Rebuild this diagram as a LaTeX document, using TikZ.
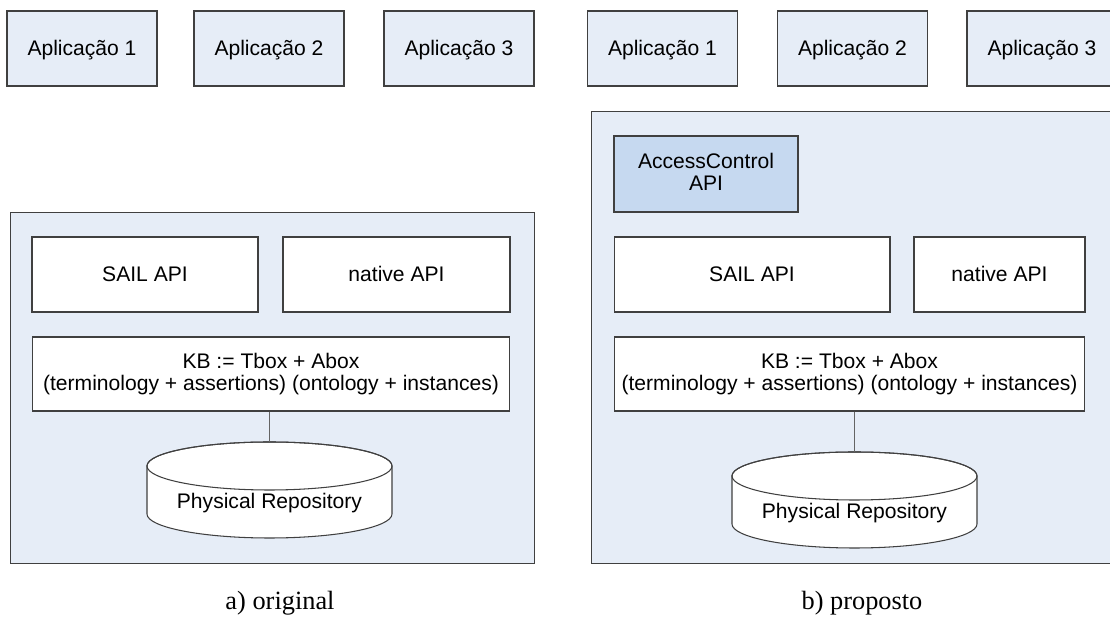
\documentclass[tikz,border=0pt]{standalone}
\usepackage{fontspec}
\setmainfont{Liberation Serif}
\setsansfont{Liberation Sans}
\definecolor{panelfill}{RGB}{230,237,247}
\definecolor{accfill}{RGB}{198,217,240}
\definecolor{edge}{RGB}{64,64,64}
\definecolor{linkgray}{RGB}{100,100,100}
\newcommand\boxstrut{\rule[-0.2em]{0pt}{1.1em}}
\tikzset{
  box/.style={draw=edge, line width=0.6pt, fill=white, inner sep=0pt,
    align=center, font=\sffamily\fontsize{12}{12.8}\selectfont,
    execute at begin node=\boxstrut, execute at end node=\boxstrut},
  appbox/.style={box, fill=panelfill, minimum width=3cm, minimum height=1.5cm},
  panel/.style={draw=edge, line width=0.6pt, fill=panelfill, inner sep=0pt},
  link/.style={draw=linkgray, line width=0.6pt},
  caption/.style={font=\rmfamily\fontsize{15}{17}\selectfont, anchor=base}
}
\begin{document}
\begin{tikzpicture}[x=0.02cm, y=-0.02cm]
  \useasboundingbox (0,0) rectangle (1110,617);

  % applications
  \foreach \i/\xl/\xr in {1/82/662.5, 2/269/852.5, 3/459/1042} {
    \node [appbox] (appL\i) at (\xl,48.5) {Aplicação \i};
    \node [appbox] (appR\i) at (\xr,48.5) {Aplicação \i};
  }

  % a) original
  \node [panel, minimum width=10.5cm, minimum height=7.04cm] (panelL) at (272.5,388) {};
  \node [box, minimum width=4.52cm, minimum height=1.5cm] (sailL) at (145,274.5) {SAIL API};
  \node [box, minimum width=4.54cm, minimum height=1.5cm] (nativeL) at (396.5,274.5) {native API};
  \node [box, minimum width=9.56cm, minimum height=1.48cm] (kbL) at (271,374)
    {KB := Tbox + Abox\\(terminology + assertions) (ontology + instances)};
  \path [draw=edge, line width=0.6pt, fill=white] (147,466) -- (147,514)
    arc [start angle=180, end angle=0, x radius=122.5, y radius=24] -- (392,466)
    arc [start angle=0, end angle=-180, x radius=122.5, y radius=24] -- cycle;
  \draw [edge, line width=0.6pt] (269.5,466) ellipse [x radius=122.5, y radius=24];
  \coordinate (repoLtop) at (269.5,442);
  \node [font=\sffamily\fontsize{12}{12.8}\selectfont] (repoL) at (269.5,503) {Physical Repository};
  \draw [link] (kbL.south -| repoLtop) -- (repoLtop);
  \node [caption] (capL) at (280,610) {a) original};

  % b) proposto
  \node [panel, minimum width=10.68cm, minimum height=9.06cm] (panelR) at (858,337.5) {};
  \node [box, fill=accfill, minimum width=3.68cm, minimum height=1.52cm] (acc) at (706,174)
    {AccessControl\\API};
  \node [box, minimum width=5.52cm, minimum height=1.5cm] (sailR) at (752,274.5) {SAIL API};
  \node [box, minimum width=3.42cm, minimum height=1.5cm] (nativeR) at (999.5,274.5) {native API};
  \node [box, minimum width=9.42cm, minimum height=1.48cm] (kbR) at (849.5,374)
    {KB := Tbox + Abox\\(terminology + assertions) (ontology + instances)};
  \path [draw=edge, line width=0.6pt, fill=white] (732,476) -- (732,524)
    arc [start angle=180, end angle=0, x radius=122.5, y radius=24] -- (977,476)
    arc [start angle=0, end angle=-180, x radius=122.5, y radius=24] -- cycle;
  \draw [edge, line width=0.6pt] (854.5,476) ellipse [x radius=122.5, y radius=24];
  \coordinate (repoRtop) at (854.5,452);
  \node [font=\sffamily\fontsize{12}{12.8}\selectfont] (repoR) at (854.5,513) {Physical Repository};
  \draw [link] (kbR.south -| repoRtop) -- (repoRtop);
  \node [caption] (capR) at (862,610) {b) proposto};

\end{tikzpicture}
\end{document}
